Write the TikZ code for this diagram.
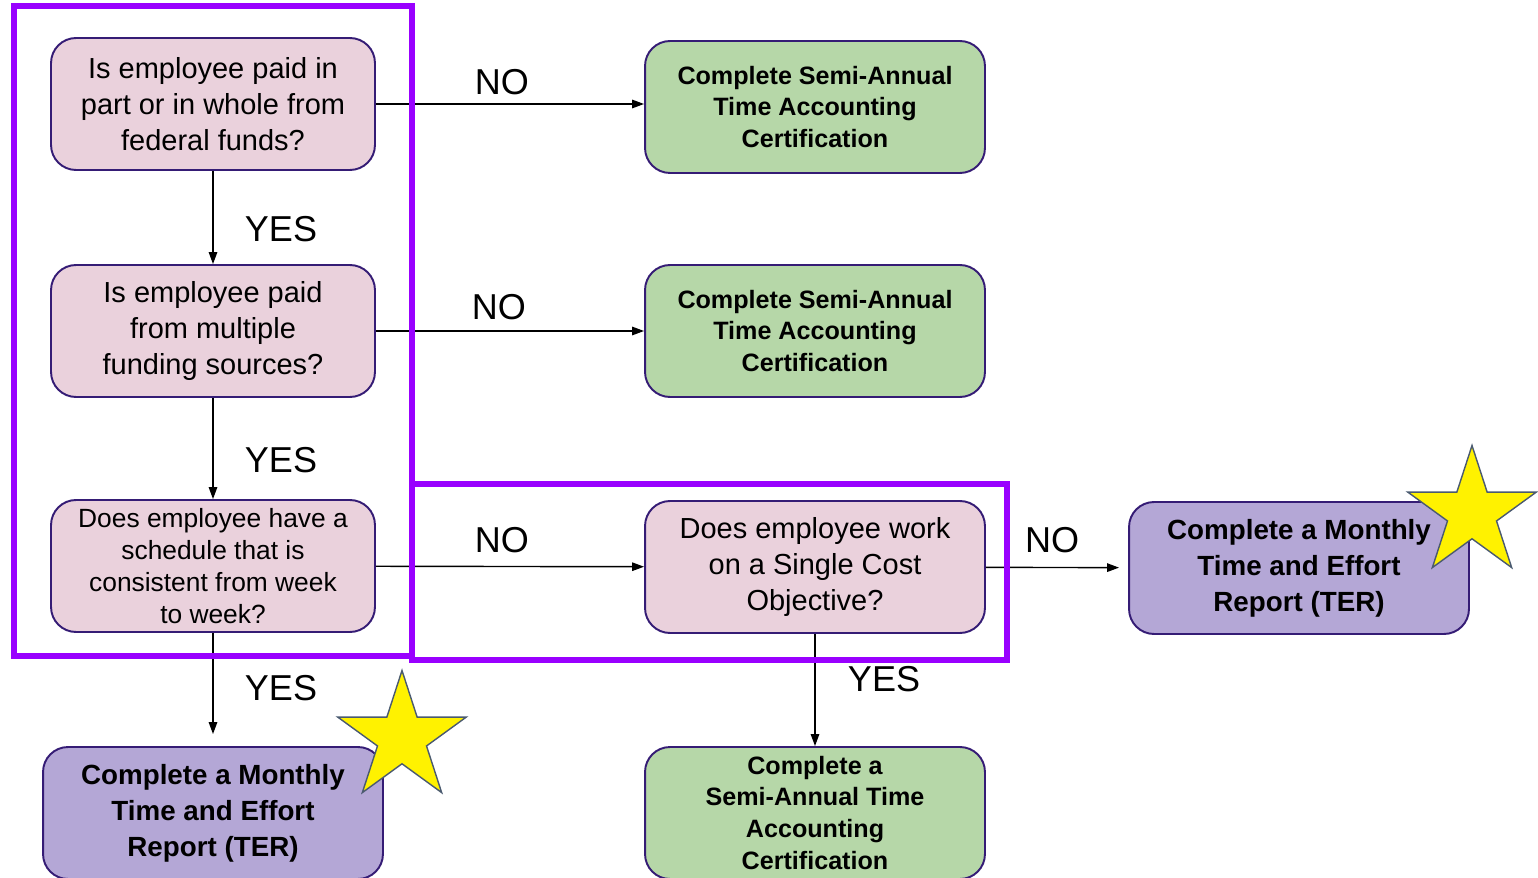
\documentclass[tikz,border=0pt]{standalone}
\usepackage{fontspec}
\setmainfont{Liberation Sans}
\usetikzlibrary{shapes.geometric,arrows.meta}
\definecolor{askpink}{HTML}{EAD1DC}
\definecolor{donegreen}{HTML}{B6D7A8}
\definecolor{terpurple}{HTML}{B4A7D6}
\definecolor{boxline}{HTML}{351C75}
\definecolor{framepurple}{HTML}{9900FF}
\definecolor{starline}{HTML}{4A5A70}
\tikzset{
  basebox/.style={draw=boxline,line width=1.1pt,rounded corners=0.5cm,
    minimum width=6.8cm,minimum height=2.64cm,align=center,inner sep=0pt},
  askbox/.style={basebox,fill=askpink,font=\fontsize{16.5}{20.5}\selectfont},
  leftask/.style={askbox,minimum width=6.48cm},
  smallask/.style={leftask,font=\fontsize{15}{18.2}\selectfont},
  donebox/.style={basebox,fill=donegreen,font=\bfseries\fontsize{14.3}{18.2}\selectfont},
  terbox/.style={basebox,fill=terpurple,font=\bfseries\fontsize{15.8}{20.5}\selectfont},
  answer/.style={inner sep=0pt,font=\fontsize{20.5}{24}\selectfont},
  flow/.style={line width=0.8pt,-{Triangle[length=2.4mm,width=1.7mm]}},
  frame/.style={draw=framepurple,line width=3.4pt},
  goldstar/.style={star,star points=5,star point ratio=2.618,inner sep=0pt,
    draw=starline,line width=0.8pt,fill=yellow}
}
\begin{document}
\begin{tikzpicture}[x=0.02cm,y=-0.02cm]
  \useasboundingbox (0,0) rectangle (1538,878);
  % questions
  \node [leftask] (q1) at (213,104) {Is employee paid in\\part or in whole from\\federal funds?};
  \node [leftask] (q2) at (213,331) {Is employee paid\\from multiple\\funding sources?};
  \node [smallask] (q3) at (213,566) {Does employee have a\\schedule that is\\consistent from week\\to week?};
  \node [askbox] (q4) at (815,567) {Does employee work\\on a Single Cost\\Objective?};
  % outcomes
  \node [donebox] (g1) at (815,107) {Complete Semi-Annual\\Time Accounting\\Certification};
  \node [donebox] (g2) at (815,331) {Complete Semi-Annual\\Time Accounting\\Certification};
  \node [donebox] (g3) at (815,813) {Complete a\\Semi-Annual Time\\Accounting\\Certification};
  \node [terbox] (t1) at (1299,568) {Complete a Monthly\\Time and Effort\\Report (TER)};
  \node [terbox] (t2) at (213,813) {Complete a Monthly\\Time and Effort\\Report (TER)};
  % connectors
  \draw [flow] (q1.east) -- (q1.east -| g1.west);
  \path [flow] (q1) edge (q2);
  \path [flow] (q2) edge (g2);
  \path [flow] (q2) edge (q3);
  \path [flow] (q3) edge (q4);
  \path [flow] (q4) edge [shorten >=0.18cm] (t1);
  \path [flow] (q3) edge [shorten >=0.24cm] (t2);
  \path [flow] (q4) edge (g3);
  \node [answer] (no1) at (502,82) {NO};
  \node [answer] (yes1) at (281,229) {YES};
  \node [answer] (no2) at (499,307) {NO};
  \node [answer] (yes2) at (281,460) {YES};
  \node [answer] (no3) at (502,540) {NO};
  \node [answer] (no4) at (1052,540) {NO};
  \node [answer] (yes3) at (281,688) {YES};
  \node [answer] (yes4) at (884,679) {YES};
  % highlight frames
  \draw [frame] (14,6) rectangle (412,656);
  \draw [frame] (412,484) rectangle (1007,660);
  \node [goldstar,minimum size=2.7cm] (s1) at (1472,513) {};
  \node [goldstar,minimum size=2.7cm] (s2) at (402,738) {};
\end{tikzpicture}
\end{document}
